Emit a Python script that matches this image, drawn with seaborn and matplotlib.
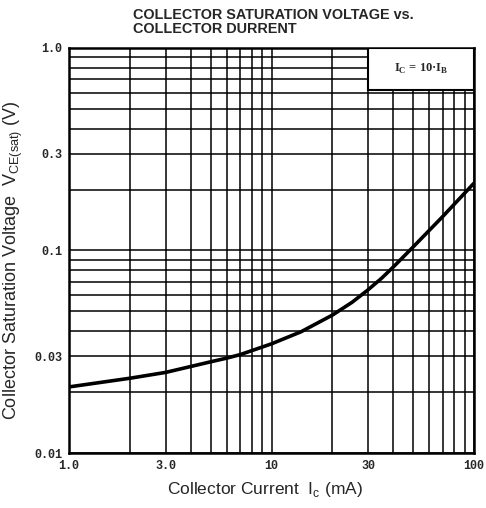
import matplotlib
matplotlib.use("Agg")
import matplotlib.pyplot as plt
from matplotlib.patches import Rectangle
from matplotlib.ticker import FixedLocator, NullFormatter, LogLocator
import seaborn as sns
import pandas as pd

# Data
collector_current_mA = [1, 2, 3, 5, 6, 7, 10, 14, 20, 25, 30, 35, 40, 50, 70, 100]
vce_sat_V = [0.0212, 0.0234, 0.0250, 0.0282, 0.0294, 0.0306, 0.0346, 0.0397, 0.048,
             0.0555, 0.064, 0.073, 0.083, 0.104, 0.147, 0.215]

x_ticks = [1, 3, 10, 30, 100]
x_tick_labels = ["1.0", "3.0", "10", "30", "100"]
y_ticks = [0.01, 0.03, 0.1, 0.3, 1.0]
y_tick_labels = ["0.01", "0.03", "0.1", "0.3", "1.0"]

df = pd.DataFrame({"Ic": collector_current_mA, "Vce": vce_sat_V})

sns.set_style("white")
plt.rcParams["font.family"] = ["Liberation Sans", "DejaVu Sans"]

fig = plt.figure(figsize=(4.86, 5.08), dpi=100)
ax = fig.add_axes([69 / 486, 1 - 453 / 508, 405 / 486, 405 / 508])

sns.lineplot(data=df, x="Ic", y="Vce", ax=ax, color="black", linewidth=2.6, zorder=3)

ax.set_xscale("log")
ax.set_yscale("log")
ax.set_xlim(1, 100)
ax.set_ylim(0.01, 1.0)

ax.xaxis.set_major_locator(FixedLocator(x_ticks))
ax.yaxis.set_major_locator(FixedLocator(y_ticks))
ax.xaxis.set_minor_locator(LogLocator(base=10, subs=range(1, 10), numticks=20))
ax.yaxis.set_minor_locator(LogLocator(base=10, subs=range(1, 10), numticks=20))
ax.xaxis.set_minor_formatter(NullFormatter())
ax.yaxis.set_minor_formatter(NullFormatter())

tick_font = dict(family=["Liberation Mono", "DejaVu Sans Mono"], weight="bold", size=8.5)
ax.set_xticklabels(x_tick_labels, fontdict=tick_font)
ax.set_yticklabels(y_tick_labels, fontdict=tick_font)
ax.tick_params(which="both", length=0, pad=5)

ax.grid(which="both", color="black", linewidth=1.1)
ax.set_axisbelow(True)
for s in ax.spines.values():
    s.set_color("black")
    s.set_linewidth(1.8)

ax.set_xlabel("Collector Current  I$_\\mathregular{c}$ (mA)", fontsize=12.5)
ax.set_ylabel("Collector Saturation Voltage  V$_\\mathregular{CE(sat)}$ (V)", fontsize=13)
ax.xaxis.set_label_coords(0.483, -0.066)
ax.yaxis.set_label_coords(-0.109, 0.477)

# Condition box
ax.add_patch(Rectangle((0.738, 0.896), 0.262, 0.104, transform=ax.transAxes,
                       facecolor="white", edgecolor="black", linewidth=1.5, zorder=4))
ax.text(0.869, 0.948, "I$_\\mathregular{C}$ = 10·I$_\\mathregular{B}$", transform=ax.transAxes,
        ha="center", va="center", fontsize=9, fontweight="bold",
        family=["Liberation Serif", "DejaVu Serif"], zorder=5)

fig.text(133 / 486, 1 - 22 / 508, "COLLECTOR SATURATION VOLTAGE vs.\nCOLLECTOR DURRENT",
         ha="left", va="center", fontsize=10.4, fontweight="bold", linespacing=0.98,
         family=["Liberation Sans", "DejaVu Sans"])

fig.savefig("out.png", dpi=100, facecolor="white")
